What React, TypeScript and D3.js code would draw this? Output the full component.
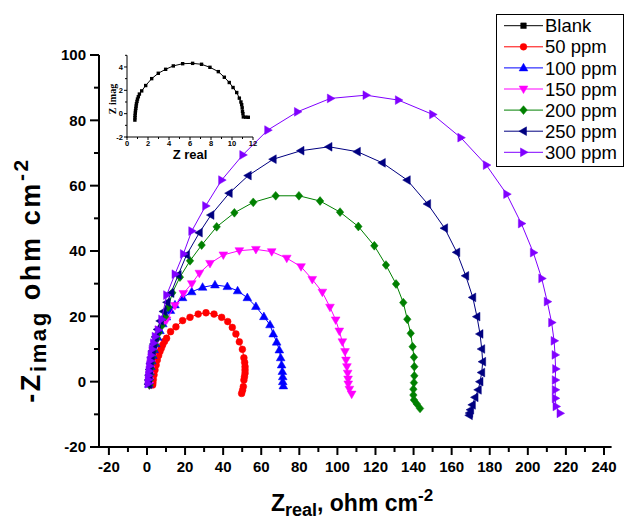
import React from "react";
import * as d3 from "d3";

type Pt = [number, number];

const seriesNames = ["Blank", "50 ppm", "100 ppm", "150 ppm", "200 ppm", "250 ppm", "300 ppm"];
const seriesColors = ["#000000", "#ff0000", "#0000ff", "#ff00ff", "#008000", "#000080", "#8000ff"];
const seriesMarkers = ["square", "circle", "up", "down", "diamond", "left", "right"];

const blank: Pt[] = [[0.75,-0.55],[0.76,-0.35],[0.77,-0.15],[0.79,0.05],[0.81,0.25],[0.84,0.45],[0.87,0.65],[0.9,0.85],[0.95,1.05],[1.0,1.25],[1.08,1.45],[1.18,1.68],[1.4,1.95],[1.78,2.41],[2.35,3.0],[2.98,3.46],[3.68,3.8],[4.41,4.09],[5.3,4.28],[6.25,4.31],[7.1,4.23],[7.9,3.97],[8.7,3.6],[9.27,3.12],[9.74,2.67],[10.1,2.24],[10.45,1.81],[10.7,1.33],[10.85,1.0],[10.92,0.77],[10.97,0.5],[11.0,0.2],[11.04,0.0],[11.08,-0.28],[11.3,-0.3],[11.55,-0.31]];

const ppm50: Pt[] = [[3.0,-1.0],[3.1,-0.3],[3.3,0.7],[3.7,2.1],[4.2,3.6],[4.8,5.1],[5.4,6.6],[6.1,8.0],[6.8,9.2],[7.5,10.2],[8.2,11.2],[9.2,12.3],[10.3,13.3],[12.4,15.3],[15.2,16.8],[18.7,18.7],[22.6,19.7],[26.9,20.7],[31,21.1],[35.2,20.7],[39.2,19.7],[42.4,18.4],[44.8,16.6],[46.7,14.6],[48.5,12.2],[50.1,9.9],[50.9,7.3],[51.3,5.9],[51.5,4.6],[51.5,3.6],[51.5,2.6],[51.2,1.5],[50.9,0.5],[50.6,-1.5],[50.2,-2.6],[49.7,-3.6]];

const ppm100: Pt[] = [[1.0,-0.8],[1.1,0.2],[1.3,1.5],[1.6,3.0],[2.0,4.6],[2.5,6.3],[3.1,8.0],[3.8,9.8],[4.6,11.6],[5.6,13.6],[6.8,15.6],[8.3,17.7],[10.2,19.8],[12.3,21.8],[14.7,23.5],[18.7,25.7],[23.5,27.5],[29.2,28.9],[35.7,29.6],[42.2,29.1],[47.6,27.8],[52.7,25.7],[57.2,23],[61.4,19.9],[64.6,17.4],[66.3,14.6],[68.1,12.1],[69.5,9.7],[70.2,7.3],[70.7,5.1],[71.1,3.1],[71.3,1.5],[71.3,0],[71.6,-1.3]];

const ppm150: Pt[] = [[1.2,-1.0],[1.3,0.3],[1.5,2.0],[1.8,3.8],[2.2,5.6],[2.7,7.5],[3.3,9.5],[4.1,11.6],[5.1,13.8],[6.4,16.0],[8.1,17.6],[10.3,18.9],[14.7,23.3],[19.1,27.0],[23.5,30.0],[27.5,33.2],[33.1,36.2],[40.1,38.8],[48.5,40.1],[57.2,40.5],[65.5,39.8],[73.4,37.8],[80.9,35.2],[86.8,31.3],[92.1,27.4],[96.1,22.8],[99.1,18.9],[101,15.5],[102.6,12.2],[104,9.2],[104.5,6.6],[105,4.6],[105.4,2.6],[105.6,0.8],[105.7,-0.7],[106.3,-2.3],[107.5,-3.8]];

const ppm200: Pt[] = [[1.3,-1],[1.4,0.5],[1.6,2.2],[1.9,4],[2.3,5.8],[2.8,7.6],[3.4,9.4],[4.2,11.3],[5.1,13.2],[6.2,15.0],[7.7,17.1],[9.5,19.9],[11.2,22.8],[13.3,27.2],[17.3,32],[22.6,37],[28.7,41.8],[36.6,47.4],[45.9,51.7],[55.8,54.9],[67.6,56.9],[79.8,56.9],[90.9,55.3],[101.4,51.9],[111,47.5],[119.4,41.6],[125.5,35.7],[130.8,29.9],[134.6,24.2],[136.7,19.1],[138.5,14.8],[139.5,10.7],[140.2,7.5],[140.4,4.6],[140.4,1.8],[140.2,-0.3],[139.9,-2.3],[139.9,-4.1],[140.2,-5.6],[141.7,-6.8],[143.4,-8.2]];

const ppm250: Pt[] = [[0.8,-0.8],[0.9,0.5],[1.1,2.0],[1.4,3.7],[1.8,5.5],[2.3,7.4],[2.9,9.4],[3.6,11.5],[4.5,13.7],[5.6,16.0],[7.0,18.6],[8.7,21.5],[10.6,24.3],[12.6,27.1],[16.4,32.7],[20.8,38.8],[27.5,45.6],[33.6,51.0],[43.2,57.7],[53.2,63.1],[66.3,68.1],[80.9,70.7],[95.6,71.9],[110.5,70.4],[123.6,67],[136.7,61.7],[147.4,54.4],[156.3,47],[162.7,39.6],[167.4,32.4],[171.1,25.8],[173.3,19.9],[174.9,14.6],[175.8,10],[176.3,6.1],[175.8,2.8],[174.9,0],[174,-2.5],[172.3,-4.8],[170.9,-7.1],[170,-8.6],[169.5,-9.6],[169.3,-10.3]];

const ppm300: Pt[] = [[0.6,-0.6],[0.7,0.6],[0.85,1.9],[1.05,3.3],[1.3,4.8],[1.65,6.4],[2.1,8.1],[2.7,9.9],[3.4,11.8],[4.3,13.8],[5.9,15.8],[7.7,19.1],[10.3,26.5],[14.7,32.9],[19.1,39.1],[23.5,46.1],[30.8,53.8],[39.2,61.7],[50.3,69.4],[63.4,77.0],[79,82.6],[96.3,86.7],[115,87.7],[132,86.2],[150,81.8],[164.8,74.7],[178.2,66.3],[188.9,57.4],[196.6,48.4],[202.9,39.5],[207.3,31.6],[210.2,24.5],[212.5,18.1],[213.8,12.5],[214.3,8.2],[214.6,3.9],[214.4,0.5],[214.4,-2.5],[214.4,-5.1],[214.8,-7.6],[216.9,-9.7]];

const mainSeries: Pt[][] = [ppm50, ppm100, ppm150, ppm200, ppm250, ppm300];

const xTicks = d3.range(-20, 241, 20);
const xMinor = d3.range(-20, 241, 10);
const yTicks = d3.range(-20, 101, 20);
const yMinor = d3.range(-20, 101, 10);
const insetXTicks = d3.range(0, 13, 2);
const insetXMinor = d3.range(0, 13, 1);
const insetYTicks = [-2, 0, 2, 4];
const insetYMinor = d3.range(-2, 6, 1);

function markerPath(type: string, s: number): string {
  switch (type) {
    case "square":
      return `M${-s},${-s}h${2 * s}v${2 * s}h${-2 * s}Z`;
    case "circle":
      return `M${s},0A${s},${s} 0 1,1 ${-s},0A${s},${s} 0 1,1 ${s},0Z`;
    case "up":
      return `M0,${-s}L${s * 0.95},${s * 0.65}L${-s * 0.95},${s * 0.65}Z`;
    case "down":
      return `M0,${s}L${s * 0.95},${-s * 0.65}L${-s * 0.95},${-s * 0.65}Z`;
    case "left":
      return `M${-s},0L${s * 0.65},${-s * 0.95}L${s * 0.65},${s * 0.95}Z`;
    case "right":
      return `M${s},0L${-s * 0.65},${-s * 0.95}L${-s * 0.65},${s * 0.95}Z`;
    case "diamond":
      return `M0,${-s}L${s * 0.85},0L0,${s}L${-s * 0.85},0Z`;
  }
  return "";
}
const markerSize: Record<string, number> = { square: 2.8, circle: 3.4, up: 4.6, down: 4.6, left: 4.6, right: 4.6, diamond: 4.4 };

const FONT = "Arial, 'Liberation Sans', Helvetica, sans-serif";

export default function App() {
  const x = d3.scaleLinear().domain([-25.2, 244]).range([99, 611.6]);
  const y = d3.scaleLinear().domain([-20, 100]).range([447, 55]);
  const ix = d3.scaleLinear().domain([0, 12]).range([127, 253]);
  const iy = d3.scaleLinear().domain([-2, 5]).range([137, 55.3]);

  const line = d3.line<Pt>().x((d) => x(d[0])).y((d) => y(d[1]));
  const iline = d3.line<Pt>().x((d) => ix(d[0])).y((d) => iy(d[1]));

  return (
    <svg width={626} height={522} style={{ position: "absolute", left: 0, top: 0, background: "#fff" }} fontFamily={FONT}>
      <rect x={0} y={0} width={626} height={522} fill="#fff" />
      {mainSeries.map((data, i) => {
        const k = i + 1;
        const c = seriesColors[k];
        const m = seriesMarkers[k];
        return (
          <g key={k}>
            <path d={line(data) || ""} fill="none" stroke={c} strokeWidth={1} />
            {data.map((d, j) => (
              <path key={j} d={markerPath(m, markerSize[m])} transform={`translate(${x(d[0])},${y(d[1])})`} fill={c} stroke={c} strokeWidth={0.5} />
            ))}
          </g>
        );
      })}

      <line x1={99} x2={99} y1={55} y2={448} stroke="#000" strokeWidth={2} />
      <line x1={98} x2={611.6} y1={447} y2={447} stroke="#000" strokeWidth={2} />
      {yMinor.map((v) => (
        <line key={"ym" + v} x1={99} x2={v % 20 === 0 ? 90 : 94} y1={y(v)} y2={y(v)} stroke="#000" strokeWidth={2} />
      ))}
      {yTicks.map((v) => (
        <text key={"yt" + v} x={86} y={y(v)} dy="0.36em" textAnchor="end" fontSize={15} fontWeight="bold">{v}</text>
      ))}
      {xMinor.map((v) => (
        <line key={"xm" + v} x1={x(v)} x2={x(v)} y1={447} y2={v % 20 === 0 ? 455 : 452} stroke="#000" strokeWidth={2} />
      ))}
      {xTicks.map((v) => (
        <text key={"xt" + v} x={x(v)} y={472} textAnchor="middle" fontSize={15} fontWeight="bold">{v}</text>
      ))}

      <text x={352} y={511} textAnchor="middle" fontSize={23} fontWeight="bold">
        Z<tspan fontSize={18} dy={5}>real</tspan><tspan dy={-5}>, ohm cm</tspan><tspan fontSize={17} dy={-10}>-2</tspan>
      </text>
      <text transform="translate(40,280) rotate(-90)" textAnchor="middle" fontSize={27} fontWeight="bold" letterSpacing={2.6}>
        -Z<tspan fontSize={22} dy={6}>imag</tspan><tspan dy={-6}> ohm cm</tspan><tspan fontSize={21} dy={-12}>-2</tspan>
      </text>

      <g>
        <path d={iline(blank) || ""} fill="none" stroke="#000" strokeWidth={1} />
        {blank.map((d, j) => (
          <path key={j} d={markerPath("square", 1.7)} transform={`translate(${ix(d[0])},${iy(d[1])})`} fill="#000" />
        ))}
        <line x1={127} x2={127} y1={55.3} y2={137.5} stroke="#000" strokeWidth={1} />
        <line x1={126.5} x2={253} y1={137} y2={137} stroke="#000" strokeWidth={1} />
        {insetXMinor.map((v) => (
          <line key={"ixm" + v} x1={ix(v)} x2={ix(v)} y1={137} y2={v % 2 === 0 ? 140 : 139} stroke="#000" strokeWidth={1} />
        ))}
        {insetXTicks.map((v) => (
          <text key={"ixt" + v} x={ix(v)} y={146} textAnchor="middle" fontSize={7.5} fontWeight="bold">{v}</text>
        ))}
        {insetYMinor.map((v) => (
          <line key={"iym" + v} x1={127} x2={v % 2 === 0 ? 124 : 125} y1={iy(v)} y2={iy(v)} stroke="#000" strokeWidth={1} />
        ))}
        {insetYTicks.map((v) => (
          <text key={"iyt" + v} x={123} y={iy(v)} dy="0.35em" textAnchor="end" fontSize={7.5} fontWeight="bold">{v}</text>
        ))}
        <text x={190} y={159} textAnchor="middle" fontSize={13} fontWeight="bold">Z real</text>
        <text transform="translate(116,99) rotate(-90)" textAnchor="middle" fontSize={10} fontWeight="bold" fontFamily="'Liberation Serif', 'Times New Roman', serif">Z imag</text>
      </g>

      <rect x={496.5} y={14.5} width={127} height={152} fill="#fff" stroke="#000" strokeWidth={1} />
      {seriesNames.map((name, i) => {
        const cy = 25.7 + i * 21.1;
        const m = seriesMarkers[i];
        return (
          <g key={name}>
            <line x1={504} x2={543} y1={cy} y2={cy} stroke={seriesColors[i]} strokeWidth={1} />
            <path d={markerPath(m, markerSize[m])} transform={`translate(523.5,${cy})`} fill={seriesColors[i]} stroke={seriesColors[i]} strokeWidth={0.5} />
            <text x={545} y={cy} dy="0.36em" fontSize={18.5}>{name}</text>
          </g>
        );
      })}
    </svg>
  );
}
